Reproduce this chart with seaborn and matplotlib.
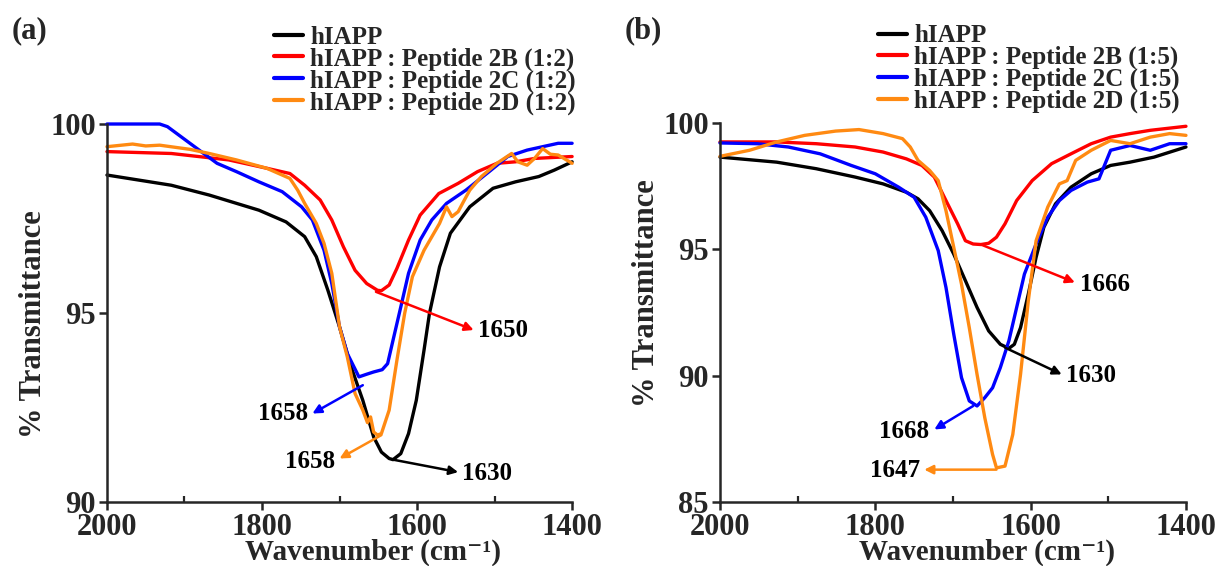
import numpy as np
import pandas as pd
import matplotlib
matplotlib.use("Agg")
import matplotlib.pyplot as plt
from matplotlib.ticker import MultipleLocator
import seaborn as sns

# ---------------- panel (a): hIAPP with peptides at 1:2 ----------------
a_black_wn = [2000, 1917, 1868, 1804, 1769, 1745, 1730, 1715, 1700, 1685, 1670, 1656, 1646, 1636,
              1631, 1621, 1611, 1601, 1591, 1584, 1571, 1557, 1532, 1502, 1473, 1443, 1423, 1400]
a_black_t = [98.65, 98.38, 98.12, 97.72, 97.41, 97.02, 96.49, 95.60, 94.63, 93.57, 92.69, 91.72, 91.32, 91.15,
             91.12, 91.28, 91.81, 92.69, 94.02, 94.99, 96.22, 97.11, 97.81, 98.30, 98.47, 98.61, 98.78, 99.00]

a_red_wn = [2000, 1917, 1843, 1794, 1764, 1745, 1725, 1710, 1695, 1680, 1665, 1651, 1646, 1636,
            1626, 1611, 1596, 1572, 1547, 1522, 1497, 1473, 1448, 1400]
a_red_t = [99.27, 99.22, 99.05, 98.83, 98.69, 98.38, 97.99, 97.46, 96.75, 96.13, 95.78, 95.60, 95.59, 95.74,
           96.18, 96.93, 97.59, 98.16, 98.43, 98.74, 98.96, 99.00, 99.09, 99.14]

a_blue_wn = [2000, 1967, 1932, 1922, 1893, 1858, 1833, 1804, 1774, 1749, 1735, 1720, 1710, 1700, 1690,
             1675, 1665, 1656, 1645, 1638, 1631, 1621, 1611, 1596, 1581, 1562, 1537, 1507, 1483, 1458,
             1418, 1400]
a_blue_t = [100.0, 100.0, 100.0, 99.93, 99.49, 98.96, 98.74, 98.47, 98.21, 97.81, 97.46, 96.66, 95.78, 94.63,
            93.93, 93.31, 93.38, 93.44, 93.50, 93.66, 94.28, 95.16, 96.05, 96.93, 97.46, 97.90, 98.25,
            98.74, 99.14, 99.31, 99.49, 99.49]

a_orange_wn = [2000, 1967, 1950, 1932, 1893, 1868, 1833, 1794, 1764, 1754, 1745, 1730, 1720, 1710, 1700,
               1690, 1680, 1670, 1664, 1660, 1656, 1651, 1646, 1636, 1626, 1616, 1606, 1591, 1571, 1562,
               1555, 1547, 1540, 1532, 1517, 1497, 1478, 1470, 1458, 1448, 1438, 1428, 1418, 1400]
a_orange_t = [99.40, 99.47, 99.42, 99.44, 99.33, 99.22, 99.05, 98.83, 98.56, 98.25, 97.90, 97.37, 96.84, 96.05,
              94.63, 93.84, 92.87, 92.43, 92.10, 92.25, 91.85, 91.77, 91.81, 92.43, 93.75, 94.99, 95.96,
              96.66, 97.37, 97.81, 97.55, 97.68, 97.95, 98.25, 98.61, 98.96, 99.22, 99.00, 98.91, 99.10,
              99.35, 99.20, 99.18, 98.96]

# ---------------- panel (b): hIAPP with peptides at 1:5 ----------------
b_black_wn = [2000, 1927, 1876, 1826, 1790, 1760, 1745, 1730, 1714, 1699, 1684, 1669, 1654, 1639, 1628,
              1621, 1613, 1603, 1593, 1583, 1568, 1548, 1522, 1497, 1472, 1441, 1400]
b_black_t = [98.65, 98.45, 98.19, 97.86, 97.59, 97.26, 97.00, 96.53, 95.74, 94.81, 93.76, 92.70, 91.77, 91.24,
             91.08, 91.24, 91.90, 93.23, 94.68, 95.87, 96.80, 97.46, 97.99, 98.32, 98.45, 98.65, 99.05]

b_red_wn = [2000, 1927, 1876, 1826, 1790, 1760, 1740, 1724, 1709, 1694, 1684, 1674, 1664, 1654, 1644,
            1633, 1618, 1598, 1573, 1548, 1522, 1497, 1472, 1446, 1400]
b_red_t = [99.25, 99.25, 99.18, 99.05, 98.85, 98.58, 98.32, 97.86, 96.93, 96.01, 95.34, 95.21, 95.19, 95.24,
           95.48, 96.01, 96.93, 97.72, 98.39, 98.78, 99.18, 99.44, 99.58, 99.71, 99.87]

b_blue_wn = [2000, 1952, 1912, 1871, 1831, 1800, 1770, 1750, 1735, 1719, 1709, 1699, 1689, 1679, 1669,
             1659, 1649, 1639, 1628, 1618, 1608, 1593, 1578, 1563, 1548, 1527, 1512, 1497, 1472, 1446,
             1421, 1400]
b_blue_t = [99.21, 99.18, 99.05, 98.78, 98.32, 97.99, 97.46, 97.06, 96.27, 94.95, 93.49, 91.64, 89.92, 89.00,
            88.80, 89.13, 89.52, 90.32, 91.38, 92.70, 94.02, 95.21, 96.27, 96.93, 97.33, 97.66, 97.79,
            98.92, 99.11, 98.92, 99.18, 99.18]

b_orange_wn = [2000, 1962, 1927, 1891, 1851, 1821, 1790, 1765, 1755, 1745, 1730, 1719, 1709, 1699, 1689,
               1679, 1669, 1659, 1649, 1644, 1633, 1623, 1613, 1603, 1593, 1578, 1563, 1553, 1542, 1522,
               1497, 1472, 1446, 1421, 1400]
b_orange_t = [98.68, 98.92, 99.25, 99.51, 99.68, 99.74, 99.58, 99.38, 99.05, 98.52, 98.12, 97.72, 96.53, 95.08,
              93.62, 91.90, 90.05, 88.33, 86.88, 86.35, 86.42, 87.67, 90.05, 92.96, 95.34, 96.67, 97.59,
              97.72, 98.52, 98.92, 99.31, 99.18, 99.44, 99.58, 99.51]

colors = ["#000000", "#ff0000", "#0000ff", "#ff8a12"]
labels_a = ["hIAPP", "hIAPP : Peptide 2B (1:2)", "hIAPP : Peptide 2C (1:2)", "hIAPP : Peptide 2D (1:2)"]
labels_b = ["hIAPP", "hIAPP : Peptide 2B (1:5)", "hIAPP : Peptide 2C (1:5)", "hIAPP : Peptide 2D (1:5)"]

# peak annotations: (label, curve point, arrow head, text position, text alignment, colour index)
peaks_a = [
    ("1650", (1653, 95.56), (1527, 94.55), (1522, 94.55), "left", 1),
    ("1658", (1670, 93.09), (1735, 92.34), (1741, 92.34), "right", 2),
    ("1658", (1646, 91.77), (1700, 91.15), (1706, 91.08), "right", 3),
    ("1630", (1631, 91.12), (1547, 90.79), (1542, 90.75), "left", 0),
]
peaks_b = [
    ("1666", (1664, 95.19), (1543, 93.69), (1537, 93.62), "left", 1),
    ("1630", (1633, 91.11), (1560, 90.05), (1554, 90.00), "left", 0),
    ("1668", (1674, 88.80), (1724, 87.87), (1731, 87.80), "right", 2),
    ("1647", (1644, 86.28), (1737, 86.28), (1742, 86.25), "right", 3),
]

sns.set_theme(style="ticks")
plt.rcParams["font.family"] = ["Liberation Serif", "DejaVu Serif"]
plt.rcParams["font.weight"] = "bold"
plt.rcParams["axes.labelweight"] = "bold"
plt.rcParams["axes.linewidth"] = 1.8

fig = plt.figure(figsize=(12.17, 5.66), dpi=100)
ax_a = fig.add_axes([0.0879, 0.1131, 0.3822, 0.6678])
ax_b = fig.add_axes([0.5916, 0.1131, 0.3829, 0.6696])


def build_frame(series, labels):
    frames = []
    for (wn, t), lab in zip(series, labels):
        frames.append(pd.DataFrame({"wn": wn, "T": t, "sample": lab}))
    return pd.concat(frames, ignore_index=True)


def draw_panel(ax, series, labels, ylim, yticks, peaks, legend_x, ylabel_y):
    df = build_frame(series, labels)
    sns.lineplot(data=df, x="wn", y="T", hue="sample", palette=colors, hue_order=labels,
                 linewidth=2.4, ax=ax, sort=False, estimator=None, legend=True, clip_on=False)
    ax.set_xlim(2000, 1400)
    ax.set_ylim(*ylim)
    ax.set_xticks([2000, 1800, 1600, 1400])
    ax.xaxis.set_minor_locator(MultipleLocator(100))
    ax.set_yticks(yticks)
    ax.tick_params(axis="both", which="major", direction="out", length=6, width=1.8,
                   labelsize=22, pad=2)
    ax.tick_params(axis="x", which="minor", direction="in", length=4, width=1.6)
    for lbl in ax.get_xticklabels() + ax.get_yticklabels():
        lbl.set_fontweight("bold")
    sns.despine(ax=ax)
    ax.set_xlabel("Wavenumber (cm\u207b\u00b9)", fontsize=21, fontweight="bold")
    ax.set_ylabel("% Transmittance", fontsize=22, fontweight="bold")
    ax.xaxis.set_label_coords(0.572, -0.098)
    ax.yaxis.set_label_coords(-0.127, ylabel_y)

    for text, tail, head, tpos, ha, ci in peaks:
        ax.annotate("", xy=head, xytext=tail,
                    arrowprops=dict(arrowstyle="-|>", color=colors[ci], lw=1.8,
                                    mutation_scale=13, shrinkA=0, shrinkB=0))
        ax.text(tpos[0], tpos[1], text, ha=ha, va="center", fontsize=18, fontweight="bold",
                color="black")

    leg = ax.legend(loc="upper left", bbox_to_anchor=(legend_x, 1.26), frameon=False,
                    fontsize=18, handlelength=1.15, handletextpad=0.3, labelspacing=-0.06,
                    borderpad=0, borderaxespad=0)
    for line in leg.get_lines():
        line.set_linewidth(3.0)
    for t in leg.get_texts():
        t.set_fontweight("bold")


draw_panel(ax_a,
           [(a_black_wn, a_black_t), (a_red_wn, a_red_t), (a_blue_wn, a_blue_t), (a_orange_wn, a_orange_t)],
           labels_a, (90, 100), [90, 95, 100], peaks_a, 0.359, 0.47)
draw_panel(ax_b,
           [(b_black_wn, b_black_t), (b_red_wn, b_red_t), (b_blue_wn, b_blue_t), (b_orange_wn, b_orange_t)],
           labels_b, (85, 100), [85, 90, 95, 100], peaks_b, 0.339, 0.55)

fig.text(0.0099, 0.945, "(a)", fontsize=22, fontweight="bold", ha="left", va="center")
fig.text(0.5136, 0.945, "(b)", fontsize=22, fontweight="bold", ha="left", va="center")

fig.savefig("out.png", dpi=100, facecolor="white")
